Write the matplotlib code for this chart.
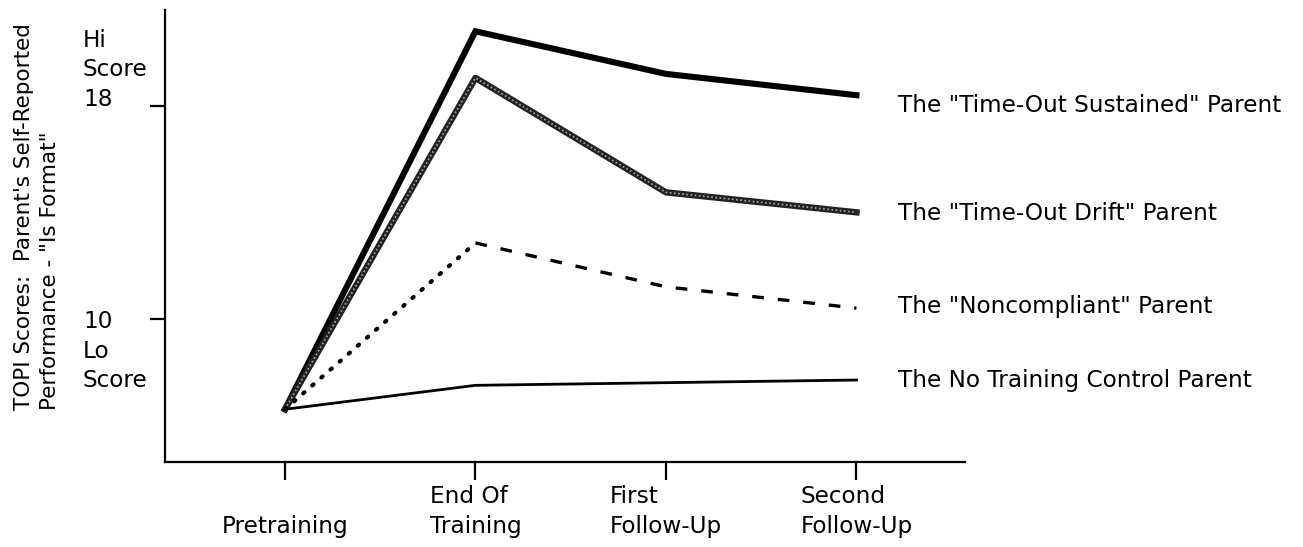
import matplotlib
matplotlib.use("Agg")
import matplotlib.pyplot as plt

# TOPI scores at each assessment point
stages = ["Pretraining", "End Of\nTraining", "First\nFollow-Up", "Second\nFollow-Up"]
sustained = [6.6, 20.8, 19.2, 18.4]
drift = [6.6, 19.05, 14.75, 14.0]
noncompliant = [6.6, 12.85, 11.2, 10.4]
control = [6.6, 7.5, 7.6, 7.7]
group_names = ['The "Time-Out Sustained" Parent',
               'The "Time-Out Drift" Parent',
               'The "Noncompliant" Parent',
               'The No Training Control Parent']

plt.rcParams['font.family'] = ['DejaVu Sans']
fs = 16.7

fig = plt.figure(figsize=(13.03, 5.47), dpi=100)
ax = fig.add_axes([0.1266, 0.1554, 0.614, 0.8263])

x = list(range(len(stages)))

ax.plot(x, sustained, color='black', lw=4.4, solid_joinstyle='miter')
# textured drift line: dark band with light speckle
ax.plot(x, drift, color='#222222', lw=4.6)
ax.plot(x, drift, color='#aaaaaa', lw=1.2, ls=(0, (1, 1.5)))
ax.plot(x[:2], noncompliant[:2], color='black', lw=3,
        ls=(0, (0.4, 2.5)), dash_capstyle='round')
ax.plot(x[1:], noncompliant[1:], color='black', lw=2.4, ls=(0, (3.5, 4.2)))
ax.plot(x, control, color='black', lw=2)

ax.set_xlim(-0.63, 3.57)
ax.set_ylim(4.62, 21.6)

for s in ['top', 'right']:
    ax.spines[s].set_visible(False)
for s in ['left', 'bottom']:
    ax.spines[s].set_linewidth(1.6)

ax.set_xticks(x)
ax.set_xticklabels([])
ax.tick_params(axis='x', direction='out', length=13, width=1.6)
ax.set_yticks([10, 18])
ax.set_yticklabels([])
ax.tick_params(axis='y', direction='out', length=11, width=1.6)

# category labels, bottom aligned like the original
for xi, lab in zip(x, stages):
    ax.text(xi, -0.168, lab, transform=ax.get_xaxis_transform(),
            ha='center', va='bottom', multialignment='left', fontsize=fs,
            linespacing=1.4)

# y scale annotations
fig.text(83 / 1303, 1 - 70 / 547, "Hi\nScore\n18", ha='left', va='center',
         fontsize=fs, linespacing=1.35)
fig.text(83 / 1303, 1 - 351 / 547, "10\nLo\nScore", ha='left', va='center',
         fontsize=fs, linespacing=1.35)

fig.text(37 / 1303, 1 - 410 / 547,
         "TOPI Scores:  Parent's Self-Reported\nPerformance - \"Is Format\"",
         rotation=90, ha='center', va='bottom', multialignment='left',
         fontsize=15.5, linespacing=1.35)

# group labels at the right
label_y = [105, 213, 306, 380]
for name, yp in zip(group_names, label_y):
    fig.text(898 / 1303, 1 - yp / 547, name, ha='left', va='center',
             fontsize=fs)

fig.savefig("out.png", dpi=100)
